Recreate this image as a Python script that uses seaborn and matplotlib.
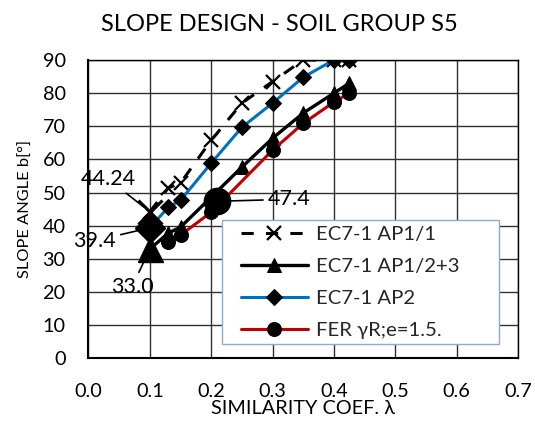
import numpy as np
import pandas as pd
import matplotlib
matplotlib.use("Agg")
import matplotlib.pyplot as plt
import seaborn as sns
from matplotlib.ticker import MultipleLocator
from matplotlib.patches import Rectangle

# ---- data ----
ap11_x = [0.10, 0.13, 0.15, 0.20, 0.25, 0.30, 0.35, 0.40, 0.425]
ap11_y = [44.24, 51.4, 52.9, 65.8, 77.0, 83.5, 90.0, 90.0, 90.0]

ap123_x = [0.10, 0.13, 0.15, 0.25, 0.30, 0.35, 0.40, 0.425]
ap123_y = [33.0, 37.8, 39.6, 57.7, 66.4, 74.0, 80.0, 83.0]

ap2_x = [0.10, 0.13, 0.15, 0.20, 0.25, 0.30, 0.35, 0.40, 0.425]
ap2_y = [39.4, 45.6, 47.7, 58.9, 69.7, 77.0, 84.8, 90.0, 90.0]

fer_x = [0.13, 0.15, 0.20, 0.30, 0.35, 0.40, 0.425]
fer_y = [35.1, 37.2, 44.1, 62.8, 70.9, 77.3, 80.0]

# highlighted (labelled) points
hl_labels = ["44.24", "39.4", "33.0", "47.4"]
hl_x = [0.10, 0.10, 0.10, 0.21]
hl_y = [44.24, 39.4, 33.0, 47.4]
hl_markers = ["x", "D", "^", "o"]
hl_text_x = [0.032, 0.010, 0.071, 0.327]
hl_text_y = [54.1, 35.5, 21.6, 48.0]

series_names = ["EC7-1 AP1/1", "EC7-1 AP1/2+3", "EC7-1 AP2", "FER γR;e=1.5."]

title = "SLOPE DESIGN - SOIL GROUP S5"
xlabel = "SIMILARITY COEF. λ"
ylabel = "SLOPE ANGLE b[°]"

# ---- style ----
sns.set_style("white")
plt.rcParams["font.family"] = ["Lato", "DejaVu Sans"]

fig = plt.figure(figsize=(5.35, 4.21), dpi=100)
ax = fig.add_axes([0.1654, 0.1485, 0.8028, 0.709])

BLUE = "#0070C0"
RED = "#C00000"

sns.lineplot(x=ap11_x, y=ap11_y, ax=ax, color="black", linewidth=2.2,
             linestyle=(0, (4, 4)), marker="x", markersize=10,
             markeredgecolor="black", markeredgewidth=1.6,
             label=series_names[0], zorder=3)
sns.lineplot(x=ap123_x, y=ap123_y, ax=ax, color="black", linewidth=2.4,
             marker="^", markersize=10, markeredgecolor="black",
             markerfacecolor="black", label=series_names[1], zorder=3)
sns.lineplot(x=ap2_x, y=ap2_y, ax=ax, color=BLUE, linewidth=2.2,
             marker="D", markersize=8, markeredgecolor="black",
             markerfacecolor="black", label=series_names[2], zorder=3)
sns.lineplot(x=fer_x, y=fer_y, ax=ax, color=RED, linewidth=2.2,
             marker="o", markersize=10, markeredgecolor="black",
             markerfacecolor="black", label=series_names[3], zorder=3)

# large highlighted markers
hl_sizes = {"x": 17, "D": 15, "^": 18, "o": 19}
for mk, hx, hy in zip(hl_markers, hl_x, hl_y):
    ax.plot([hx], [hy], linestyle="none", marker=mk, markersize=hl_sizes[mk],
            markeredgecolor="black", markerfacecolor="black",
            markeredgewidth=2.2 if mk == "x" else 1, zorder=4)

for lab, hx, hy, tx, ty in zip(hl_labels, hl_x, hl_y, hl_text_x, hl_text_y):
    ax.annotate(lab, xy=(hx, hy), xytext=(tx, ty), textcoords="data",
                ha="center", va="center", fontsize=15.5, color="black",
                arrowprops=dict(arrowstyle="-", color="black", lw=1.2,
                                shrinkA=1, shrinkB=6),
                annotation_clip=False, zorder=5)

ax.set_xlim(0, 0.7)
ax.set_ylim(0, 90)
ax.xaxis.set_major_locator(MultipleLocator(0.1))
ax.xaxis.set_minor_locator(MultipleLocator(0.05))
ax.yaxis.set_major_locator(MultipleLocator(10))
ax.yaxis.set_minor_locator(MultipleLocator(5))
ax.xaxis.set_major_formatter(matplotlib.ticker.FormatStrFormatter("%.1f"))
ax.grid(True, which="major", color="#303030", linewidth=1.0, zorder=0)
ax.set_axisbelow(True)
ax.tick_params(which="both", direction="out", length=5, width=1.3,
               color="black", labelsize=14.3, labelcolor="black")
ax.tick_params(axis="x", which="major", pad=12.5)
ax.tick_params(axis="y", which="major", pad=11.5)
for s in ax.spines.values():
    s.set_color("black")
    s.set_linewidth(1.0)
ax.spines["left"].set_linewidth(1.5)
ax.spines["bottom"].set_linewidth(1.5)

fig.text(279 / 535, 1 - 31 / 421, title, fontsize=17, ha="center",
         va="baseline", color="black")
ax.set_xlabel(xlabel, fontsize=14.3, labelpad=0.5, color="black")
ax.set_ylabel(ylabel, fontsize=11.8, labelpad=7, color="black")

# legend frame drawn as a box, legend content placed inside
ax.add_patch(Rectangle((0.310, 0.0486), 0.646, 0.4154, transform=ax.transAxes,
                       facecolor="white", edgecolor="#8EAADB", linewidth=1.0,
                       zorder=5.5, clip_on=False))
leg = ax.legend(loc="upper left", bbox_to_anchor=(0.354, 0.443),
                borderaxespad=0, fontsize=14.6, frameon=False,
                handlelength=3.35, handletextpad=0.35, labelspacing=0.72,
                borderpad=0)
leg.set_zorder(6)

fig.savefig("out.png", dpi=100)
